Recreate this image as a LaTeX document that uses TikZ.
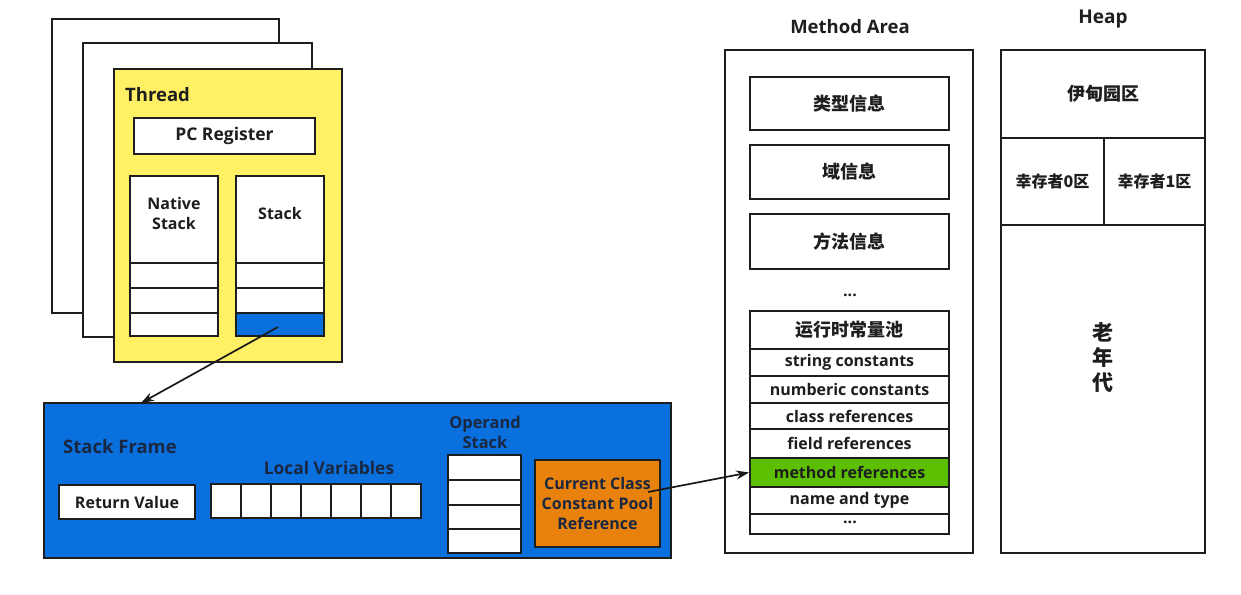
\documentclass[tikz,border=0pt]{standalone}
\usepackage{fontspec}
\setmainfont{Open Sans}
\newfontfamily\cjk{Noto Sans CJK SC}
\usetikzlibrary{arrows.meta}
\definecolor{thy}{HTML}{FFF066}
\definecolor{frblue}{HTML}{0A70DE}
\definecolor{orng}{HTML}{E8820C}
\definecolor{grn}{HTML}{5CC000}
\definecolor{ink}{HTML}{1E1E1E}
\definecolor{ink2}{HTML}{1A2740}
\newcommand{\mybox}[7][]{\node[cell,minimum width={(#5-#3)*1pt},minimum height={(#6-#4)*1pt},#1] (#2) at ({(#3+#5)/2},{(#4+#6)/2}) {#7};}
\begin{document}
\begin{tikzpicture}[x=1pt,y=-1pt,
 cell/.style={draw=ink,line width=1.9pt,fill=white,inner sep=0pt,text=ink,font=\bfseries\fontsize{16}{18}\selectfont,align=center},
 lbl/.style={inner sep=0pt,text=ink,font=\bfseries\fontsize{18.5}{20}\selectfont,align=center},
 cn/.style={font=\cjk\bfseries\fontsize{18}{20}\selectfont},
 arr/.style={draw=black!90,line width=1.7pt,-{Stealth[length=13pt,width=9pt]}}]
\useasboundingbox[fill=white] (0,0) rectangle (1241,594);
% ---------- threads ----------
\mybox{back1}{52}{19}{279}{313}{}
\mybox{back2}{83}{43}{312}{337}{}
\mybox[fill=thy]{thread}{114}{69}{342}{362}{}
\node[lbl,anchor=west] (threadlbl) at (125,95) {Thread};
\mybox[font=\bfseries\fontsize{17.5}{19}\selectfont]{pc}{134}{118}{315}{154}{PC Register}
\mybox{nat}{130}{176}{218}{263}{}
\mybox{nat1}{130}{263}{218}{288}{}
\mybox{nat2}{130}{288}{218}{313}{}
\mybox{nat3}{130}{313}{218}{336}{}
\node[lbl,font=\bfseries\fontsize{16}{20}\selectfont] (natlbl) at (174,213) {Native\\Stack};
\mybox{stk}{236}{176}{324}{263}{}
\mybox{stk1}{236}{263}{324}{288}{}
\mybox{stk2}{236}{288}{324}{313}{}
\mybox[fill=frblue]{stk3}{236}{313}{324}{336}{}
\node[lbl,font=\bfseries\fontsize{16}{20}\selectfont] (stklbl) at (280,213) {Stack};
% ---------- stack frame ----------
\mybox[fill=frblue]{frame}{44}{403}{671}{558}{}
\node[lbl,anchor=west,text=ink2] (framelbl) at (63,447) {Stack Frame};
\mybox[font=\bfseries\fontsize{16}{18}\selectfont]{ret}{59}{485}{195}{519}{Return Value}
\node[lbl,text=ink2,font=\bfseries\fontsize{17.4}{19}\selectfont] (lvlbl) at (329,468) {Local Variables};
\mybox{lv1}{211}{484}{241}{518}{}
\mybox{lv2}{241}{484}{271}{518}{}
\mybox{lv3}{271}{484}{301}{518}{}
\mybox{lv4}{301}{484}{331}{518}{}
\mybox{lv5}{331}{484}{361}{518}{}
\mybox{lv6}{361}{484}{391}{518}{}
\mybox{lv7}{391}{484}{421}{518}{}
\node[lbl,text=ink2,font=\bfseries\fontsize{16.4}{20}\selectfont] (oplbl) at (485,432) {Operand\\Stack};
\mybox{op1}{448}{455}{521}{480}{}
\mybox{op2}{448}{480}{521}{505}{}
\mybox{op3}{448}{505}{521}{529}{}
\mybox{op4}{448}{529}{521}{553}{}
\mybox[fill=orng,text=ink2,font=\bfseries\fontsize{16}{20}\selectfont]{cp}{535}{460}{660}{547}{Current Class\\Constant Pool\\Reference}
% ---------- method area ----------
\node[lbl] (malbl) at (850,27) {Method Area};
\mybox{ma}{725}{50}{973}{553}{}
\mybox[cn]{ti}{750}{77}{949}{130}{类型信息}
\mybox[cn]{fi}{750}{145}{949}{199}{域信息}
\mybox[cn]{mi}{750}{214}{949}{269}{方法信息}
\node[lbl,font=\bfseries\fontsize{16}{18}\selectfont] (madots) at (850,295) {...};
\mybox[cn]{rcp}{750}{311}{949}{349}{运行时常量池}
\mybox{sc}{750}{349}{949}{376}{string constants}
\mybox{nc}{750}{376}{949}{403}{numberic constants}
\mybox{cr}{750}{403}{949}{429}{class references}
\mybox{fr}{750}{429}{949}{458}{field references}
\mybox[fill=grn]{mref}{750}{458}{949}{487}{method references}
\mybox{nt}{750}{487}{949}{514}{name and type}
\mybox{pd}{750}{514}{949}{534}{}
\node[lbl,font=\bfseries\fontsize{16}{18}\selectfont] (pdots) at (850,522) {...};
% ---------- heap ----------
\node[lbl,font=\bfseries\fontsize{19}{21}\selectfont] (heaplbl) at (1103,19) {Heap};
\mybox{heap}{1001}{50}{1205}{553}{}
\mybox[cn]{eden}{1001}{50}{1205}{138}{伊甸园区}
\mybox[cn,font=\cjk\bfseries\fontsize{16}{18}\selectfont]{s0}{1001}{138}{1104}{225}{幸存者0区}
\mybox[cn,font=\cjk\bfseries\fontsize{16}{18}\selectfont]{s1}{1104}{138}{1205}{225}{幸存者1区}
\node[lbl,font=\cjk\bfseries\fontsize{21}{25}\selectfont] (old) at (1103,358) {老\\年\\代};
% ---------- arrows ----------
\coordinate (a1s) at (278,327);
\coordinate (a1e) at (141,403);
\draw[arr] (a1s) -- (a1e);
\coordinate (a2s) at (648,492);
\draw[arr] (a2s) -- (mref.west);
\end{tikzpicture}
\end{document}
